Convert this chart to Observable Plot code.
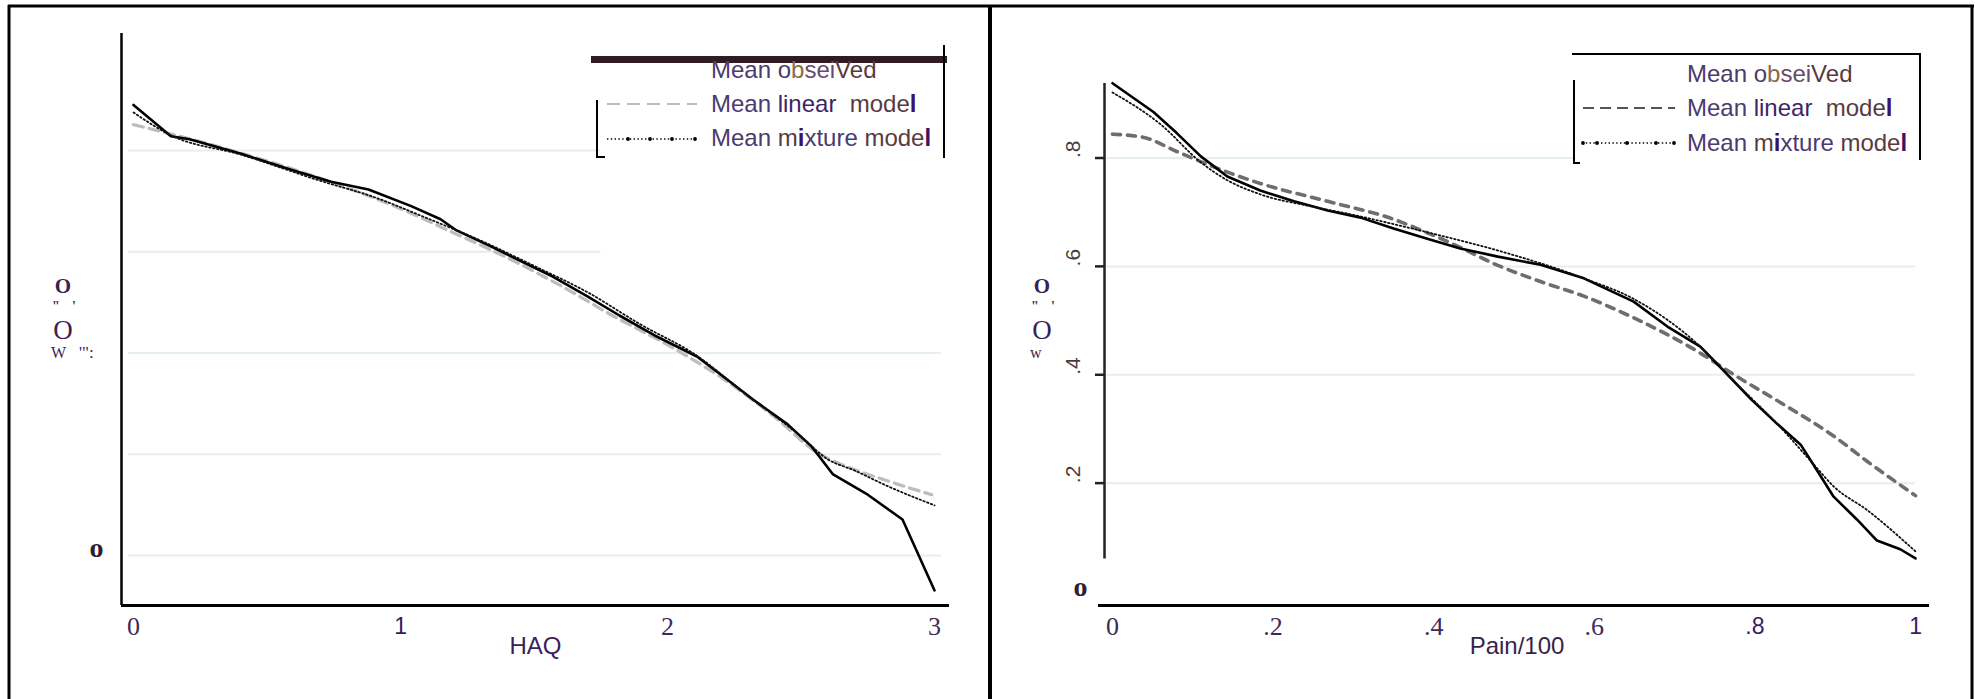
<!DOCTYPE html>
<html>
<head>
<meta charset="utf-8">
<script src="https://cdn.jsdelivr.net/npm/d3@7"></script>
<script src="https://cdn.jsdelivr.net/npm/@observablehq/plot@0.6"></script>
<style>
html, body { margin: 0; padding: 0; background: #fff; }
#root { position: relative; width: 1975px; height: 699px; overflow: hidden; background: #fff; }
#root > div, #root > svg { position: absolute; }
</style>
</head>
<body>
<div id="root"></div>
<script>
// ---------------- DATA ----------------
// Left panel: HAQ
const haqTicks = [0, 1, 2, 3];
const haqTickLabels = ["0", "1", "2", "3"];
const haqObsX = [0, 0.14, 0.21, 0.40, 0.59, 0.74, 0.88, 1.04, 1.15, 1.21, 1.34, 1.46, 1.57, 1.70, 1.82, 1.95, 2.11, 2.20, 2.32, 2.45, 2.54, 2.62, 2.75, 2.88, 3.0];
const haqObsY = [0.89, 0.828, 0.822, 0.794, 0.762, 0.738, 0.723, 0.69, 0.664, 0.642, 0.61, 0.579, 0.551, 0.512, 0.474, 0.435, 0.393, 0.357, 0.308, 0.259, 0.215, 0.16, 0.12, 0.071, -0.069];
const haqLinX = [0, 0.13, 0.4, 0.7, 1.0, 1.2, 1.4, 1.6, 1.8, 2.0, 2.2, 2.4, 2.57, 2.65, 2.82, 2.99];
const haqLinY = [0.851, 0.834, 0.795, 0.745, 0.685, 0.637, 0.588, 0.533, 0.472, 0.416, 0.352, 0.274, 0.20, 0.18, 0.148, 0.12];
const haqMixX = [0, 0.14, 0.4, 0.7, 0.9, 1.1, 1.3, 1.5, 1.7, 1.9, 2.1, 2.3, 2.5, 2.6, 2.7, 2.82, 3.0];
const haqMixY = [0.875, 0.83, 0.792, 0.74, 0.708, 0.666, 0.622, 0.572, 0.52, 0.456, 0.398, 0.316, 0.235, 0.19, 0.168, 0.138, 0.099];
const haqGridY = [0, 0.2, 0.4, 0.6, 0.8];
const haqGridEnd = [3.026, 3.026, 3.026, 1.75, 1.75];

// Right panel: Pain/100
const painTicks = [0, 0.2, 0.4, 0.6, 0.8, 1];
const painTickLabels = ["0", ".2", ".4", ".6", ".8", "1"];
const painYTicks = [0.2, 0.4, 0.6, 0.8];
const painYTickLabels = [".2", ".4", ".6", ".8"];
const painObsX = [0, 0.051, 0.08, 0.11, 0.143, 0.184, 0.226, 0.268, 0.309, 0.35, 0.392, 0.433, 0.48, 0.533, 0.587, 0.649, 0.691, 0.732, 0.766, 0.795, 0.828, 0.857, 0.878, 0.898, 0.927, 0.952, 0.981, 1.0];
const painObsY = [0.938, 0.885, 0.846, 0.803, 0.766, 0.74, 0.72, 0.703, 0.69, 0.67, 0.651, 0.633, 0.618, 0.603, 0.578, 0.535, 0.489, 0.452, 0.40, 0.355, 0.309, 0.271, 0.222, 0.175, 0.133, 0.094, 0.078, 0.061];
const painLinX = [0, 0.039, 0.08, 0.122, 0.184, 0.268, 0.35, 0.392, 0.433, 0.475, 0.533, 0.587, 0.649, 0.732, 0.774, 0.836, 0.898, 0.94, 1.0];
const painLinY = [0.844, 0.838, 0.812, 0.786, 0.753, 0.72, 0.687, 0.662, 0.635, 0.605, 0.572, 0.545, 0.505, 0.44, 0.40, 0.345, 0.287, 0.24, 0.177];
const painMixX = [0, 0.06, 0.11, 0.143, 0.184, 0.25, 0.3, 0.35, 0.4, 0.483, 0.587, 0.649, 0.732, 0.774, 0.828, 0.873, 0.898, 0.94, 1.0];
const painMixY = [0.921, 0.862, 0.792, 0.759, 0.733, 0.71, 0.695, 0.678, 0.66, 0.628, 0.578, 0.54, 0.452, 0.388, 0.309, 0.235, 0.194, 0.15, 0.074];
const painGridY = [0.2, 0.4, 0.6, 0.8];
const painGridEnd = [1.0, 1.0, 1.0, 0.577];
const painYAxisSpan = [0.06, 0.9375];

// ---------------- STYLE ----------------
const SANS = "'Liberation Sans', Arial, sans-serif";
const SERIF = "'Liberation Serif', 'Times New Roman', serif";
const GRID = "#e5eef1";
const pts = (xs, ys) => xs.map((x, i) => ({x, y: ys[i]}));
const grid = (ys, ends, start) => ys.map((v, i) => ({v, x1: start, x2: ends[i]}));

function place(el, left, top) {
  const wrap = document.createElement("div");
  wrap.style.left = left + "px";
  wrap.style.top = top + "px";
  wrap.appendChild(el);
  document.getElementById("root").appendChild(wrap);
}

// ---------------- LEFT PANEL ----------------
const haqX = [-0.045, 3.056], haqY = [-0.0988, 1.031];
const left = Plot.plot({
  width: 988, height: 699,
  marginLeft: 121, marginRight: 39, marginTop: 33, marginBottom: 94,
  style: {background: "transparent", overflow: "visible"},
  x: {domain: haqX, axis: null},
  y: {domain: haqY, axis: null},
  marks: [
    Plot.ruleY(grid(haqGridY, haqGridEnd, -0.019), {y: "v", x1: "x1", x2: "x2", stroke: GRID, strokeWidth: 2}),
    Plot.ruleX([haqX[0]], {stroke: "#000", strokeWidth: 2.5}),
    Plot.ruleY([haqY[0]], {stroke: "#000", strokeWidth: 3}),
    Plot.line(pts(haqLinX, haqLinY), {x: "x", y: "y", stroke: "#bdbdbd", strokeWidth: 3.2, strokeDasharray: "10 6", curve: "monotone-x"}),
    Plot.line(pts(haqObsX, haqObsY), {x: "x", y: "y", stroke: "#000", strokeWidth: 2.6}),
    Plot.line(pts(haqMixX, haqMixY), {x: "x", y: "y", stroke: "#111", strokeWidth: 1.8, strokeDasharray: "1.5 2.5", curve: "monotone-x"}),
    Plot.text(haqTicks.filter(t => t !== 1), {x: d => d, text: d => haqTickLabels[haqTicks.indexOf(d)], frameAnchor: "bottom", dy: 29, fontSize: 26, fontFamily: SERIF, fill: "#3d2a5a"}),
    Plot.text(haqTicks.filter(t => t === 1), {x: d => d, text: d => haqTickLabels[haqTicks.indexOf(d)], frameAnchor: "bottom", dy: 28, fontSize: 23, fontFamily: SANS, fill: "#3a1860"}),
    Plot.text([0], {y: d => d, text: () => "o", frameAnchor: "left", dx: -32, dy: -7, fontSize: 28, fontWeight: "bold", fontFamily: SERIF, fill: "#2f2030"}),
    Plot.text(["HAQ"], {text: d => d, frameAnchor: "bottom", dy: 48, fontSize: 24, fontFamily: SANS, fill: "#3a1f5a"})
  ]
});
place(left, 0, 0);

// ---------------- RIGHT PANEL ----------------
const painX = [-0.00996, 1.0174], painY = [-0.0258, 0.9375];
const right = Plot.plot({
  width: 987, height: 699,
  marginLeft: 116, marginRight: 46, marginTop: 83, marginBottom: 94,
  style: {background: "transparent", overflow: "visible"},
  x: {domain: painX, axis: null},
  y: {domain: painY, axis: null},
  marks: [
    Plot.ruleY(grid(painGridY, painGridEnd, painX[0]), {y: "v", x1: "x1", x2: "x2", stroke: GRID, strokeWidth: 2}),
    Plot.ruleX([painX[0]], {y1: painYAxisSpan[0], y2: painYAxisSpan[1], stroke: "#222", strokeWidth: 2.5}),
    Plot.ruleY(painYTicks, {y: d => d, x1: painX[0], x2: painX[0], insetLeft: -9, stroke: "#222", strokeWidth: 2.5}),
    Plot.ruleY([painY[0]], {insetLeft: -6, stroke: "#000", strokeWidth: 3}),
    Plot.line(pts(painLinX, painLinY), {x: "x", y: "y", stroke: "#6e6e6e", strokeWidth: 3.6, strokeDasharray: "8 7", curve: "monotone-x"}),
    Plot.line(pts(painObsX, painObsY), {x: "x", y: "y", stroke: "#000", strokeWidth: 2.6}),
    Plot.line(pts(painMixX, painMixY), {x: "x", y: "y", stroke: "#111", strokeWidth: 1.8, strokeDasharray: "1.5 2.5", curve: "monotone-x"}),
    Plot.text(painTicks.filter(t => t < 0.7), {x: d => d, text: d => painTickLabels[painTicks.indexOf(d)], frameAnchor: "bottom", dy: 29, fontSize: 26, fontFamily: SERIF, fill: "#3d2a55"}),
    Plot.text(painTicks.filter(t => t > 0.7), {x: d => d, text: d => painTickLabels[painTicks.indexOf(d)], frameAnchor: "bottom", dy: 28, fontSize: 23, fontFamily: SANS, fill: "#3a1a66"}),
    Plot.text(painYTicks, {y: d => d, text: d => painYTickLabels[painYTicks.indexOf(d)], frameAnchor: "left", dx: -31, rotate: -90, fontSize: 21, fontFamily: SANS, fill: "#4a3d3d"}),
    Plot.text([0], {y: d => d, text: () => "o", frameAnchor: "left", dx: -31, dy: -4, fontSize: 28, fontWeight: "bold", fontFamily: SERIF, fill: "#2f2030"}),
    Plot.text(["Pain/100"], {text: d => d, frameAnchor: "bottom", dy: 48, fontSize: 24, fontFamily: SANS, fill: "#3a1f4a"})
  ]
});
place(right, 988, 0);

// ---------------- FRAME, LEGENDS, GARBLED Y LABELS ----------------
const P = "#4b3a6e", B = "#5a3a40", D = "#3b0f6b", T = "#8b6b48";
const legendText = (x, yb) => `
  <text x="${x}" y="${yb[0]}"><tspan fill="${P}">Mean o</tspan><tspan fill="${T}">b</tspan><tspan fill="#6a4a6a">sei</tspan><tspan fill="${B}">Ved</tspan></text>
  <text x="${x}" y="${yb[1]}" xml:space="preserve"><tspan fill="${P}">Mean </tspan><tspan fill="#3f1f6a">linear  </tspan><tspan fill="${B}">mode</tspan><tspan fill="${D}" font-weight="bold">l</tspan></text>
  <text x="${x}" y="${yb[2]}"><tspan fill="${P}">Mean </tspan><tspan fill="${B}">m</tspan><tspan fill="${D}" font-weight="bold">i</tspan><tspan fill="${P}">xture </tspan><tspan fill="${B}">mode</tspan><tspan fill="${D}" font-weight="bold">l</tspan></text>`;
const dots = (xs, y) => xs.map(x => `<circle cx="${x}" cy="${y}" r="1.9" fill="#000"/>`).join("");
// stacked (scan-garbled) y-axis title
const garbled = (cx, lastWord, withTail) => `
  <g font-family="${SERIF}" fill="#3b1f55">
    <text x="${cx}" y="293" text-anchor="middle" font-size="21" font-weight="bold">O</text>
    <text x="${cx - 11}" y="311" font-size="14" font-weight="bold">"</text>
    <text x="${cx + 9}" y="311" font-size="14" font-weight="bold">'</text>
    <text x="${cx}" y="339" text-anchor="middle" font-size="27">O</text>
    <text x="${cx - 12}" y="358" font-size="16">${lastWord}</text>
    ${withTail ? `<text x="${cx + 16}" y="358" font-size="17">'":</text>` : ""}
  </g>`;

const overlay = `
<svg width="1975" height="699" viewBox="0 0 1975 699" style="left:0;top:0;pointer-events:none" xmlns="http://www.w3.org/2000/svg">
  <g stroke="#000" fill="none">
    <line x1="9" y1="5" x2="9" y2="699" stroke-width="3"/>
    <line x1="8" y1="6" x2="1974" y2="6" stroke-width="3"/>
    <line x1="990" y1="5" x2="990" y2="699" stroke-width="4"/>
    <line x1="1972" y1="5" x2="1972" y2="699" stroke-width="3"/>
  </g>
  <!-- left legend -->
  <rect x="591" y="56" width="356" height="7" fill="#2e1c22"/>
  <line x1="944" y1="45" x2="944" y2="158" stroke="#000" stroke-width="2"/>
  <path d="M605,157 H597 V100" stroke="#000" stroke-width="2" fill="none"/>
  <line x1="607" y1="104" x2="697" y2="104" stroke="#bdbdbd" stroke-width="2" stroke-dasharray="13 7"/>
  <line x1="607" y1="139" x2="697" y2="139" stroke="#000" stroke-width="1.4" stroke-dasharray="1.4 2.4"/>
  ${dots([628, 650, 672, 695], 139)}
  <g font-family="${SANS}" font-size="24">${legendText(711, [78, 112, 146])}</g>
  <!-- right legend -->
  <line x1="1572" y1="54" x2="1921" y2="54" stroke="#000" stroke-width="2"/>
  <line x1="1920" y1="54" x2="1920" y2="160" stroke="#000" stroke-width="2"/>
  <path d="M1580,163 H1574 V80" stroke="#000" stroke-width="2" fill="none"/>
  <line x1="1583" y1="108" x2="1675" y2="108" stroke="#555" stroke-width="2" stroke-dasharray="11 6"/>
  <line x1="1582" y1="143" x2="1675" y2="143" stroke="#000" stroke-width="1.4" stroke-dasharray="1.4 2.4"/>
  ${dots([1583, 1597, 1627, 1656, 1674], 143)}
  <g font-family="${SANS}" font-size="24">${legendText(1687, [82, 116, 151])}</g>
  <!-- garbled y-axis titles -->
  ${garbled(63, "W", true)}
  ${garbled(1042, "w", false)}
</svg>`;
document.getElementById("root").insertAdjacentHTML("beforeend", overlay);
</script>
</body>
</html>
